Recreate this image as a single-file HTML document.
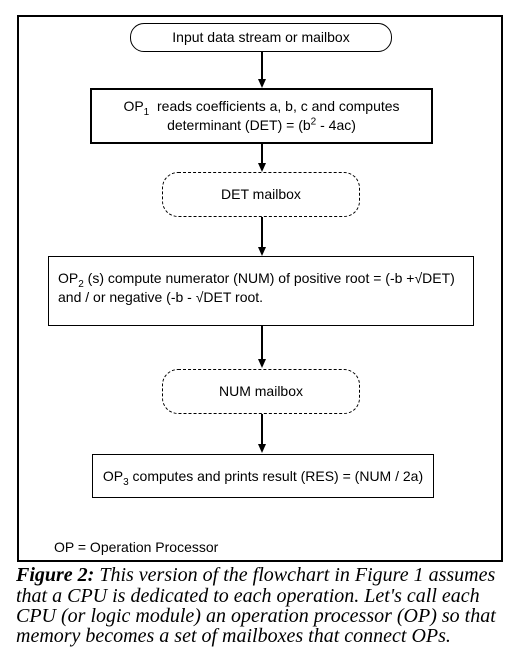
<!DOCTYPE html>
<html><head><meta charset="utf-8"><style>
body{margin:0;width:512px;height:656px;background:#fff;position:relative;overflow:hidden;font-family:"Liberation Sans",sans-serif;color:#000}
.a{position:absolute}
.box{position:absolute;border:1.5px solid #000;box-sizing:border-box;display:flex;align-items:center;justify-content:center;font-size:14px;text-align:center;line-height:19px}
.round{border-radius:14px}
.vl{position:absolute;width:1.5px;background:#000}
.ar{position:absolute;width:0;height:0;border-left:4px solid transparent;border-right:4px solid transparent;border-top:9px solid #000}
.cap{position:absolute;left:16px;font-family:"Liberation Serif",serif;font-style:italic;font-size:20px;white-space:nowrap}
sub,sup{font-size:10px;line-height:0}
</style></head><body>
<div class="a" style="left:17px;top:15px;width:486px;height:547px;border:2px solid #000;box-sizing:border-box"></div>
<div class="box round" style="left:130px;top:23px;width:262px;height:29px"><span>Input data stream or mailbox</span></div>
<div class="vl" style="left:261px;top:52px;height:28px"></div><div class="ar" style="left:258px;top:79px"></div>
<div class="box" style="left:90px;top:88px;width:343px;height:56px;border-width:2px"><span>OP<sub>1</sub>&nbsp; reads coefficients a, b, c and computes<br>determinant (DET) = (b<sup>2</sup> - 4ac)</span></div>
<div class="vl" style="left:261px;top:144px;height:20px"></div><div class="ar" style="left:258px;top:163px"></div>
<div class="box round" style="left:162px;top:172px;width:198px;height:45px;border-radius:16px;border-style:dashed;border-width:1px"><span>DET mailbox</span></div>
<div class="vl" style="left:261px;top:217px;height:31px"></div><div class="ar" style="left:258px;top:247px"></div>
<div class="box" style="left:48px;top:256px;width:426px;height:70px;justify-content:flex-start;text-align:left;padding-left:9px;padding-bottom:6px"><span>OP<sub>2</sub> (s) compute numerator (NUM) of positive root = (-b +√DET)<br>and / or negative (-b - √DET root.</span></div>
<div class="vl" style="left:261px;top:326px;height:34px"></div><div class="ar" style="left:258px;top:359px"></div>
<div class="box round" style="left:162px;top:369px;width:198px;height:45px;border-radius:16px;border-style:dashed;border-width:1px"><span>NUM mailbox</span></div>
<div class="vl" style="left:261px;top:414px;height:31px"></div><div class="ar" style="left:258px;top:444px"></div>
<div class="box" style="left:92px;top:454px;width:342px;height:44px"><span>OP<sub>3</sub> computes and prints result (RES) = (NUM / 2a)</span></div>
<div class="a" style="left:54px;top:539px;font-size:14px">OP = Operation Processor</div>
<div class="cap" style="top:564px"><b>Figure 2:</b> This version of the flowchart in Figure 1 assumes</div>
<div class="cap" style="top:585px">that a CPU is dedicated to each operation. Let's call each</div>
<div class="cap" style="top:605px">CPU (or logic module) an operation processor (OP) so that</div>
<div class="cap" style="top:625px">memory becomes a set of mailboxes that connect OPs.</div>
</body></html>
